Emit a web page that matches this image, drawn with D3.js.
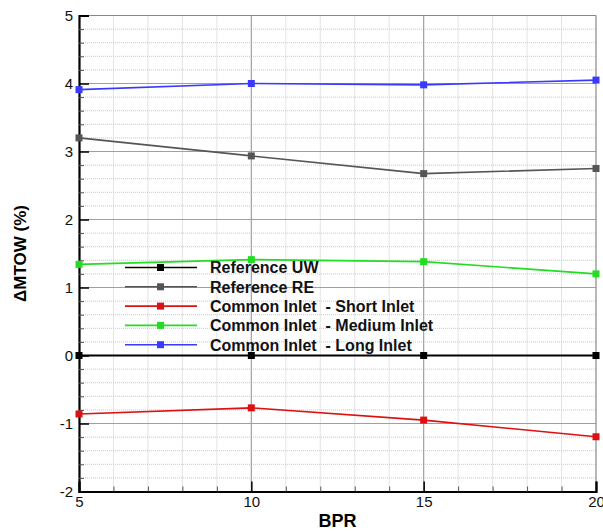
<!DOCTYPE html>
<html>
<head>
<meta charset="utf-8">
<script src="https://cdn.jsdelivr.net/npm/d3@7"></script>
<style>
  html, body { margin: 0; padding: 0; background: #fff; }
  svg { display: block; font-family: "Liberation Sans", Arial, Helvetica, sans-serif; }
</style>
</head>
<body>
<svg id="chart" width="603" height="531"></svg>
<script>
// BPR values shared by every series
const bpr = [5, 10, 15, 20];

// ΔMTOW (%) for each configuration
const referenceUW = [0, 0, 0, 0];
const referenceRE = [3.20, 2.935, 2.675, 2.75];
const shortInlet  = [-0.86, -0.77, -0.95, -1.195];
const mediumInlet = [1.34, 1.41, 1.38, 1.20];
const longInlet   = [3.91, 4.00, 3.98, 4.05];

const seriesNames  = ["Reference UW", "Reference RE", "Common Inlet  - Short Inlet", "Common Inlet  - Medium Inlet", "Common Inlet  - Long Inlet"];
const seriesValues = [referenceUW, referenceRE, shortInlet, mediumInlet, longInlet];
const seriesColors = ["#000000", "#555555", "#dd1111", "#22dd22", "#3a3aff"];

const xTicks = [5, 10, 15, 20];
const yTicks = [-2, -1, 0, 1, 2, 3, 4, 5];

const svg = d3.select("#chart");
const m = { left: 79, right: 7, top: 15.5, bottom: 39.5 };
const W = 603, H = 531;
const x = d3.scaleLinear().domain([5, 20]).range([m.left, W - m.right]);
const y = d3.scaleLinear().domain([-2, 5]).range([H - m.bottom, m.top]);

// plain hyphen for negative numbers
const fmt = d => String(d);

const grid = svg.append("g");
// minor grid (dotted)
grid.selectAll(".vminor").data(d3.range(6, 20).filter(v => v % 5 !== 0)).join("line")
  .attr("x1", d => x(d)).attr("x2", d => x(d)).attr("y1", y(-2)).attr("y2", y(5))
  .attr("stroke", "#c8c8c8").attr("stroke-width", 1).attr("stroke-dasharray", "1,1");
grid.selectAll(".hminor").data(d3.range(-2, 5.001, 0.2).filter(v => Math.abs(v - Math.round(v)) > 1e-6)).join("line")
  .attr("x1", x(5)).attr("x2", x(20)).attr("y1", d => y(d)).attr("y2", d => y(d))
  .attr("stroke", "#c8c8c8").attr("stroke-width", 1).attr("stroke-dasharray", "1,1");
// major grid (solid)
grid.selectAll(".vmajor").data([10, 15]).join("line")
  .attr("x1", d => x(d)).attr("x2", d => x(d)).attr("y1", y(-2)).attr("y2", y(5))
  .attr("stroke", "#a0a0a0").attr("stroke-width", 1.2);
grid.selectAll(".hmajor").data([-1, 0, 1, 2, 3, 4]).join("line")
  .attr("x1", x(5)).attr("x2", x(20)).attr("y1", d => y(d)).attr("y2", d => y(d))
  .attr("stroke", "#a0a0a0").attr("stroke-width", 1.2);

// frame: thin gray top and right
svg.append("line").attr("x1", x(5)).attr("x2", x(20)).attr("y1", y(5)).attr("y2", y(5))
  .attr("stroke", "#888").attr("stroke-width", 1.2);
svg.append("line").attr("x1", x(20)).attr("x2", x(20)).attr("y1", y(5)).attr("y2", y(-2))
  .attr("stroke", "#888").attr("stroke-width", 1.2);

// axes
const xAxis = d3.axisBottom(x).tickValues(xTicks).tickSize(-10).tickPadding(5).tickFormat(fmt);
const gx = svg.append("g").attr("transform", `translate(0,${y(-2)})`).call(xAxis);
gx.select(".domain").attr("stroke", "#000").attr("stroke-width", 2.2);
gx.selectAll(".tick line").attr("stroke", "#000").attr("stroke-width", 1.5);
gx.selectAll(".tick text").attr("font-size", 15).attr("fill", "#111");

const xMinor = d3.axisBottom(x).tickValues(d3.range(6, 20).filter(v => v % 5 !== 0)).tickSize(-5).tickFormat("");
const gxm = svg.append("g").attr("transform", `translate(0,${y(-2)})`).call(xMinor);
gxm.select(".domain").remove();
gxm.selectAll(".tick line").attr("stroke", "#555").attr("stroke-width", 1);

const yAxis = d3.axisLeft(y).tickValues(yTicks).tickSize(-10).tickPadding(6).tickFormat(fmt);
const gy = svg.append("g").attr("transform", `translate(${x(5)},0)`).call(yAxis);
gy.select(".domain").attr("stroke", "#000").attr("stroke-width", 2.2);
gy.selectAll(".tick line").attr("stroke", "#000").attr("stroke-width", 1.5);
gy.selectAll(".tick text").attr("font-size", 15).attr("fill", "#111");

const yMinor = d3.axisLeft(y).tickValues(d3.range(-2, 5.001, 0.2).filter(v => Math.abs(v - Math.round(v)) > 1e-6)).tickSize(-5).tickFormat("");
const gym = svg.append("g").attr("transform", `translate(${x(5)},0)`).call(yMinor);
gym.select(".domain").remove();
gym.selectAll(".tick line").attr("stroke", "#555").attr("stroke-width", 1);

// axis titles
svg.append("text").attr("x", (x(5) + x(20)) / 2).attr("y", 527)
  .attr("text-anchor", "middle").attr("font-size", 18).attr("font-weight", "bold").text("BPR");
svg.append("text").attr("transform", `translate(26,${(y(5) + y(-2)) / 2}) rotate(-90)`)
  .attr("text-anchor", "middle").attr("font-size", 17).attr("font-weight", "bold").text("ΔMTOW (%)");

// series lines and markers
const line = d3.line().x((d, i) => x(bpr[i])).y(d => y(d));
const series = svg.append("g");
seriesValues.forEach((vals, k) => {
  const g = series.append("g");
  g.append("path").datum(vals).attr("d", line).attr("fill", "none")
    .attr("stroke", seriesColors[k]).attr("stroke-width", k === 0 ? 2.2 : 1.6);
  g.selectAll("rect").data(vals).join("rect")
    .attr("x", (d, i) => x(bpr[i]) - 3.5).attr("y", d => y(d) - 3.5)
    .attr("width", 7).attr("height", 7).attr("fill", seriesColors[k]);
});

// legend
const legend = svg.append("g").attr("transform", "translate(125,267.5)");
const rowH = 19.3;
seriesNames.forEach((name, k) => {
  const row = legend.append("g").attr("transform", `translate(0,${k * rowH})`);
  row.append("line").attr("x1", 0).attr("x2", 72).attr("y1", 0).attr("y2", 0)
    .attr("stroke", seriesColors[k]).attr("stroke-width", 1.6);
  row.append("rect").attr("x", 32).attr("y", -3.5).attr("width", 7).attr("height", 7).attr("fill", seriesColors[k]);
  row.append("text").attr("x", 85).attr("y", 5.8).attr("font-size", 16).attr("font-weight", "bold")
    .attr("fill", "#111").attr("xml:space", "preserve").style("white-space", "pre").text(name);
});
</script>
</body>
</html>
